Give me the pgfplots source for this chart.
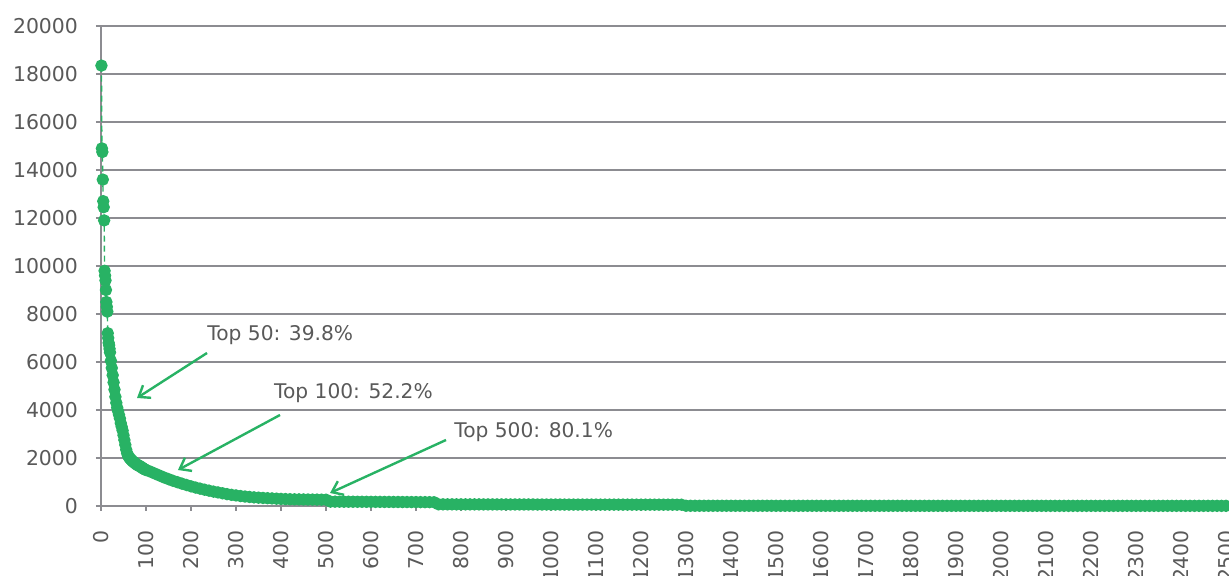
\documentclass[border=0pt]{standalone}
\usepackage{fontspec}
\setmainfont{DejaVu Sans}
\usepackage{pgfplots}
\pgfplotsset{compat=1.18}
\usetikzlibrary{arrows.meta}
\definecolor{mygreen}{RGB}{40,178,100}
\definecolor{txtgray}{RGB}{89,89,89}
\definecolor{gridgray}{RGB}{140,140,145}
\begin{document}
\begin{tikzpicture}
\path[use as bounding box] (-50.5pt,-35pt) rectangle (564pt,253pt);
\begin{axis}[
  at={(0pt,0pt)}, anchor=south west,
  scale only axis, width=562.5pt, height=240pt,
  xmin=0, xmax=2500, ymin=0, ymax=20000,
  xtick={0,100,...,2500}, ytick={0,2000,...,20000},
  scaled y ticks=false, scaled x ticks=false,
  clip=false,
  axis lines*=left,
  axis line style={gridgray, line width=1pt},
  ymajorgrids, grid style={gridgray, line width=1pt},
  tick align=outside, major tick length=2.5pt,
  tick style={gridgray, line width=1pt},
  /pgf/number format/assume math mode=true,
  /pgf/number format/1000 sep={},
  every tick label/.append style={font=\fontsize{10.2}{12}\selectfont, text=txtgray},
  xticklabel style={rotate=90, anchor=east},
  yticklabel style={anchor=east},
  xticklabel shift=6pt,
  yticklabel shift=5.5pt,
]
\addplot[mygreen, densely dashed, line width=0.7pt, mark=*, mark size=2.75pt,
  mark options={solid, fill=mygreen, draw=mygreen}] coordinates {
(1,18350)(2,14900)(3,14750)(4,13600)(5,12700)(6,12450)(7,11900)(8,9800)(9,9600)(10,9400)
(11,9000)(12,8500)(13,8300)(14,8100)(15,7200)(16,7000)(17,6800)(18,6700)(19,6550)(20,6400)
(22,6050)(24,5750)(26,5450)(28,5150)(30,4850)(32,4550)(34,4300)(36,4100)(38,3950)(40,3800)
(42,3650)(44,3450)(46,3300)(48,3150)(50,2950)(52,2750)(54,2550)(56,2350)(58,2200)(60,2100)
(62,2040)(64,1990)(66,1950)(68,1910)(70,1870)(72,1840)(74,1810)(76,1780)(78,1750)(80,1720)
(82,1700)(84,1680)(86,1660)(88,1640)(90,1610)(92,1590)(94,1560)(96,1540)(98,1520)(100,1500)
(110,1430)(120,1350)(130,1270)(140,1190)(150,1120)(160,1050)(170,990)(180,930)(190,875)(200,820)
(210,770)(220,725)(230,680)(240,640)(250,600)(260,565)(270,530)(280,495)(290,465)(300,440)
(310,415)(320,395)(330,377)(340,360)(350,347)(360,335)(370,325)(380,315)(390,305)(400,295)
(410,288)(420,282)(430,278)(440,275)(450,272)(460,270)(470,268)(480,266)(490,264)(500,262)
(510,182)(520,181)(530,180)(540,179)(550,178)(560,177)(570,176)(580,175)(590,174)(600,173)
(610,172)(620,171)(630,170)(640,169)(650,168)(660,167)(670,166)(680,165)(690,164)(700,163)
(710,162)(720,161)(730,160)(740,158)
(750,70)(760,70)(770,69)(780,69)(790,68)(800,68)(810,68)(820,67)(830,67)(840,67)
(850,66)(860,66)(870,66)(880,65)(890,65)(900,65)(910,64)(920,64)(930,64)(940,63)
(950,63)(960,63)(970,62)(980,62)(990,62)(1000,61)(1010,61)(1020,61)(1030,60)(1040,60)
(1050,60)(1060,60)(1070,59)(1080,59)(1090,59)(1100,59)(1110,58)(1120,58)(1130,58)(1140,58)
(1150,57)(1160,57)(1170,57)(1180,57)(1190,56)(1200,56)(1210,56)(1220,56)(1230,55)(1240,55)
(1250,55)(1260,55)(1270,55)(1280,54)(1290,54)
(1300,9)(1310,9)(1320,9)(1330,9)(1340,9)(1350,9)(1360,9)(1370,9)(1380,9)(1390,9)
(1400,9)(1410,9)(1420,9)(1430,9)(1440,9)(1450,9)(1460,9)(1470,9)(1480,9)(1490,9)
(1500,8)(1510,8)(1520,8)(1530,8)(1540,8)(1550,8)(1560,8)(1570,8)(1580,8)(1590,8)
(1600,8)(1610,8)(1620,8)(1630,8)(1640,8)(1650,8)(1660,8)(1670,8)(1680,8)(1690,8)
(1700,8)(1710,8)(1720,8)(1730,8)(1740,8)(1750,8)(1760,8)(1770,8)(1780,8)(1790,8)
(1800,7)(1810,7)(1820,7)(1830,7)(1840,7)(1850,7)(1860,7)(1870,7)(1880,7)(1890,7)
(1900,7)(1910,7)(1920,7)(1930,7)(1940,7)(1950,7)(1960,7)(1970,7)(1980,7)(1990,7)
(2000,7)(2010,7)(2020,7)(2030,7)(2040,7)(2050,7)(2060,7)(2070,7)(2080,7)(2090,7)
(2100,6)(2110,6)(2120,6)(2130,6)(2140,6)(2150,6)(2160,6)(2170,6)(2180,6)(2190,6)
(2200,6)(2210,6)(2220,6)(2230,6)(2240,6)(2250,6)(2260,6)(2270,6)(2280,6)(2290,6)
(2300,6)(2310,6)(2320,6)(2330,6)(2340,6)(2350,6)(2360,6)(2370,6)(2380,6)(2390,6)
(2400,6)(2410,6)(2420,6)(2430,6)(2440,6)(2450,6)(2460,6)(2470,6)(2480,6)(2490,6)(2500,6)
};
\draw[mygreen, line width=1.2pt, -{Straight Barb[length=5pt,width=7.5pt]}] (axis cs:235.6,6375) -- (axis cs:80,4500);
\draw[mygreen, line width=1.2pt, -{Straight Barb[length=5pt,width=7.5pt]}] (axis cs:397.8,3792) -- (axis cs:171,1500);
\draw[mygreen, line width=1.2pt, -{Straight Barb[length=5pt,width=7.5pt]}] (axis cs:766.7,2750) -- (axis cs:509,542);
\node[anchor=west, inner sep=0pt, text=txtgray, font=\fontsize{10.1}{12}\selectfont] at (axis cs:235.6,7125) {Top 50: 39.8\%};
\node[anchor=west, inner sep=0pt, text=txtgray, font=\fontsize{10.1}{12}\selectfont] at (axis cs:384,4708) {Top 100: 52.2\%};
\node[anchor=west, inner sep=0pt, text=txtgray, font=\fontsize{10.1}{12}\selectfont] at (axis cs:784.4,3083) {Top 500: 80.1\%};
\end{axis}
\end{tikzpicture}
\end{document}
